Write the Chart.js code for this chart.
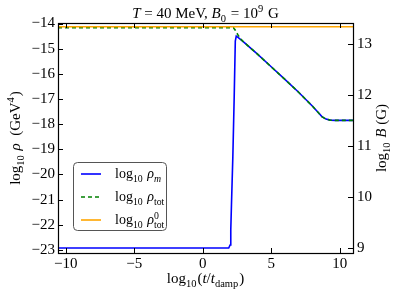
<!DOCTYPE html>
<html>
<head>
<meta charset="utf-8">
<script src="https://cdn.jsdelivr.net/npm/chart.js@4.4.1/dist/chart.umd.min.js"></script>
<style>
  html, body { margin: 0; padding: 0; background: #fff; }
  #wrap { width: 396px; height: 293px; position: relative; }
</style>
</head>
<body>
<div id="wrap"><canvas id="chart"></canvas></div>
<script>
// log10(t / t_damp)
const logT = [-10.56, 1.9, 2.0, 2.05, 2.1, 2.2, 2.25, 2.3, 2.38, 2.45, 2.6, 2.8, 3.0,
  3.5, 4, 5, 6, 7, 8, 8.4, 8.7, 9.0, 9.3, 9.7, 10.97];
// log10 rho_m
const rhoM = [-22.92, -22.92, -22.8, -22.2, -21.2, -19.3, -18.1, -16.9, -14.7, -14.5, -14.56, -14.65, -14.74,
  -14.98, -15.22, -15.72, -16.22, -16.73, -17.28, -17.52, -17.7, -17.8, -17.84, -17.85, -17.85];
// log10 rho_tot
const rhoTot = [-14.17, -14.17, -14.17, -14.17, -14.17, -14.17, -14.17, -14.21, -14.27, -14.34, -14.48, -14.63, -14.74,
  -14.98, -15.22, -15.72, -16.22, -16.73, -17.28, -17.52, -17.7, -17.8, -17.84, -17.85, -17.85];
// log10 rho^0_tot (constant)
const logTFlat = [-10.56, 10.97];
const rhoTot0 = [-14.13, -14.13];

const xTicks = [-10, -5, 0, 5, 10];
const rhoTicks = [-23, -22, -21, -20, -19, -18, -17, -16, -15, -14];
const bTicks = [9, 10, 11, 12, 13];

const FONT = '"Liberation Serif", "DejaVu Serif", serif';

function pts(xs, ys) {
  return xs.map((x, i) => ({ x: x, y: ys[i] }));
}

function minus(v) {
  return String(v).replace("-", "\u2212");
}

// tiny rich-text helper (italic, sub, sup)
function segFont(seg, size, small) {
  const sz = small ? size * 0.7 : size;
  return (seg.i ? "italic " : "") + sz + "px " + FONT;
}
function segWidth(ctx, seg, size) {
  if (seg.sup !== undefined || seg.sub !== undefined) {
    let w = 0;
    if (seg.sup !== undefined) { ctx.font = segFont({ i: seg.supI }, size, true); w = Math.max(w, ctx.measureText(seg.sup).width); }
    if (seg.sub !== undefined) { ctx.font = segFont({ i: seg.subI }, size, true); w = Math.max(w, ctx.measureText(seg.sub).width); }
    return w + 1;
  }
  ctx.font = segFont(seg, size, false);
  return ctx.measureText(seg.t).width;
}
function drawRich(ctx, segs, x, y, size, align) {
  let total = 0;
  segs.forEach(s => total += segWidth(ctx, s, size));
  let cx = align === "center" ? x - total / 2 : x;
  ctx.textAlign = "left";
  ctx.textBaseline = "alphabetic";
  segs.forEach(s => {
    const w = segWidth(ctx, s, size);
    if (s.sup !== undefined) {
      ctx.font = segFont({ i: s.supI }, size, true);
      ctx.fillText(s.sup, cx, y - size * 0.38);
    }
    if (s.sub !== undefined) {
      ctx.font = segFont({ i: s.subI }, size, true);
      ctx.fillText(s.sub, cx, y + size * 0.25);
    }
    if (s.t !== undefined) {
      ctx.font = segFont(s, size, false);
      ctx.fillText(s.t, cx, y);
    }
    cx += w;
  });
}

const titleSegs = [{ t: "T", i: true }, { t: " = 40 MeV, " }, { t: "B", i: true }, { sub: "0" },
  { t: " = 10" }, { sup: "9" }, { t: " G" }];
const xTitleSegs = [{ t: "log" }, { sub: "10" }, { t: "(" }, { t: "t", i: true }, { t: "/" }, { t: "t", i: true },
  { sub: "damp" }, { t: ")" }];
const yTitleSegs = [{ t: "log" }, { sub: "10" }, { t: " " }, { t: "ρ", i: true }, { t: "  (GeV" }, { sup: "4" }, { t: ")" }];
const y2TitleSegs = [{ t: "log" }, { sub: "10" }, { t: " " }, { t: "B", i: true }, { t: " (G)" }];
const legendItems = [
  { color: "#0000ff", dash: [], segs: [{ t: "log" }, { sub: "10" }, { t: " " }, { t: "ρ", i: true }, { sub: "m", subI: true }] },
  { color: "#008000", dash: [4, 3], segs: [{ t: "log" }, { sub: "10" }, { t: " " }, { t: "ρ", i: true }, { sub: "tot" }] },
  { color: "#ffa500", dash: [], segs: [{ t: "log" }, { sub: "10" }, { t: " " }, { t: "ρ", i: true }, { sup: "0", sub: "tot" }] }
];

const decorPlugin = {
  id: "decor",
  afterDraw(chart) {
    const ctx = chart.ctx;
    const a = chart.chartArea;
    const sx = chart.scales.x, sy = chart.scales.y, sy2 = chart.scales.y2;
    ctx.save();
    ctx.strokeStyle = "#000";
    ctx.lineWidth = 1;
    ctx.setLineDash([]);
    // inward ticks
    ctx.beginPath();
    xTicks.forEach(v => {
      const px = Math.round(sx.getPixelForValue(v)) + 0.5;
      ctx.moveTo(px, a.bottom); ctx.lineTo(px, a.bottom - 5);
      ctx.moveTo(px, a.top); ctx.lineTo(px, a.top + 5);
    });
    rhoTicks.forEach(v => {
      const py = Math.round(sy.getPixelForValue(v)) + 0.5;
      ctx.moveTo(a.left, py); ctx.lineTo(a.left + 5, py);
    });
    bTicks.forEach(v => {
      const py = Math.round(sy2.getPixelForValue(v)) + 0.5;
      ctx.moveTo(a.right, py); ctx.lineTo(a.right - 5, py);
    });
    ctx.stroke();
    // frame
    ctx.lineWidth = 1.2;
    ctx.strokeRect(Math.round(a.left) + 0.5, Math.round(a.top) + 0.5,
      Math.round(a.right - a.left), Math.round(a.bottom - a.top));

    ctx.fillStyle = "#000";
    const midX = (a.left + a.right) / 2;
    const midY = (a.top + a.bottom) / 2;
    drawRich(ctx, titleSegs, midX, 18, 15, "center");
    drawRich(ctx, xTitleSegs, midX, 283, 15, "center");
    ctx.save();
    ctx.translate(20, midY);
    ctx.rotate(-Math.PI / 2);
    drawRich(ctx, yTitleSegs, 0, 0, 15, "center");
    ctx.restore();
    ctx.save();
    ctx.translate(386, midY);
    ctx.rotate(-Math.PI / 2);
    drawRich(ctx, y2TitleSegs, 0, 0, 15, "center");
    ctx.restore();

    // legend
    const lx = a.left + 15, ly = a.bottom - 91, lw = 93, lh = 68;
    ctx.beginPath();
    ctx.roundRect(lx + 0.5, ly + 0.5, lw, lh, 4);
    ctx.fillStyle = "rgba(255,255,255,0.9)";
    ctx.fill();
    ctx.strokeStyle = "#555";
    ctx.lineWidth = 1;
    ctx.stroke();
    legendItems.forEach((it, k) => {
      const ry = ly + 12 + k * 23;
      ctx.beginPath();
      ctx.setLineDash(it.dash);
      ctx.strokeStyle = it.color;
      ctx.lineWidth = 1.6;
      ctx.moveTo(lx + 8, ry);
      ctx.lineTo(lx + 28, ry);
      ctx.stroke();
      ctx.setLineDash([]);
      ctx.fillStyle = "#000";
      drawRich(ctx, it.segs, lx + 42, ry + 4, 14, "left");
    });
    ctx.restore();
  }
};

const tickFont = { family: FONT, size: 15 };

const chart = new Chart(document.getElementById("chart"), {
  type: "line",
  data: {
    datasets: [
      { label: "rho_m", data: pts(logT, rhoM), borderColor: "#0000ff", borderWidth: 1.6,
        pointRadius: 0, tension: 0, fill: false, yAxisID: "y", order: 3 },
      { label: "rho_tot", data: pts(logT, rhoTot), borderColor: "#008000", borderWidth: 1.6,
        borderDash: [4, 3], pointRadius: 0, tension: 0, fill: false, yAxisID: "y", order: 2 },
      { label: "rho0_tot", data: pts(logTFlat, rhoTot0), borderColor: "#ffa500", borderWidth: 1.6,
        pointRadius: 0, tension: 0, fill: false, yAxisID: "y", order: 1 }
    ]
  },
  options: {
    responsive: true,
    maintainAspectRatio: false,
    animation: false,
    layout: { padding: { top: 23, left: 0, right: 0, bottom: 0 } },
    plugins: { legend: { display: false }, title: { display: false }, tooltip: { enabled: false } },
    scales: {
      x: {
        type: "linear", min: -10.56, max: 10.97,
        grid: { display: false, drawTicks: false }, border: { display: false },
        afterBuildTicks: s => { s.ticks = xTicks.map(v => ({ value: v })); },
        afterFit: s => { s.height = 40; },
        ticks: { font: tickFont, color: "#000", padding: 2, maxRotation: 0, callback: minus }
      },
      y: {
        type: "linear", position: "left", min: -23.12, max: -13.98,
        grid: { display: false, drawTicks: false }, border: { display: false },
        afterBuildTicks: s => { s.ticks = rhoTicks.map(v => ({ value: v })); },
        afterFit: s => { s.width = 58; },
        ticks: { font: tickFont, color: "#000", padding: 3, callback: minus }
      },
      y2: {
        type: "linear", position: "right", display: true, min: 8.91, max: 13.41,
        grid: { display: false, drawTicks: false }, border: { display: false },
        afterBuildTicks: s => { s.ticks = bTicks.map(v => ({ value: v })); },
        afterFit: s => { s.width = 43; },
        ticks: { font: tickFont, color: "#000", padding: 4, callback: minus }
      }
    }
  },
  plugins: [decorPlugin]
});
</script>
</body>
</html>
